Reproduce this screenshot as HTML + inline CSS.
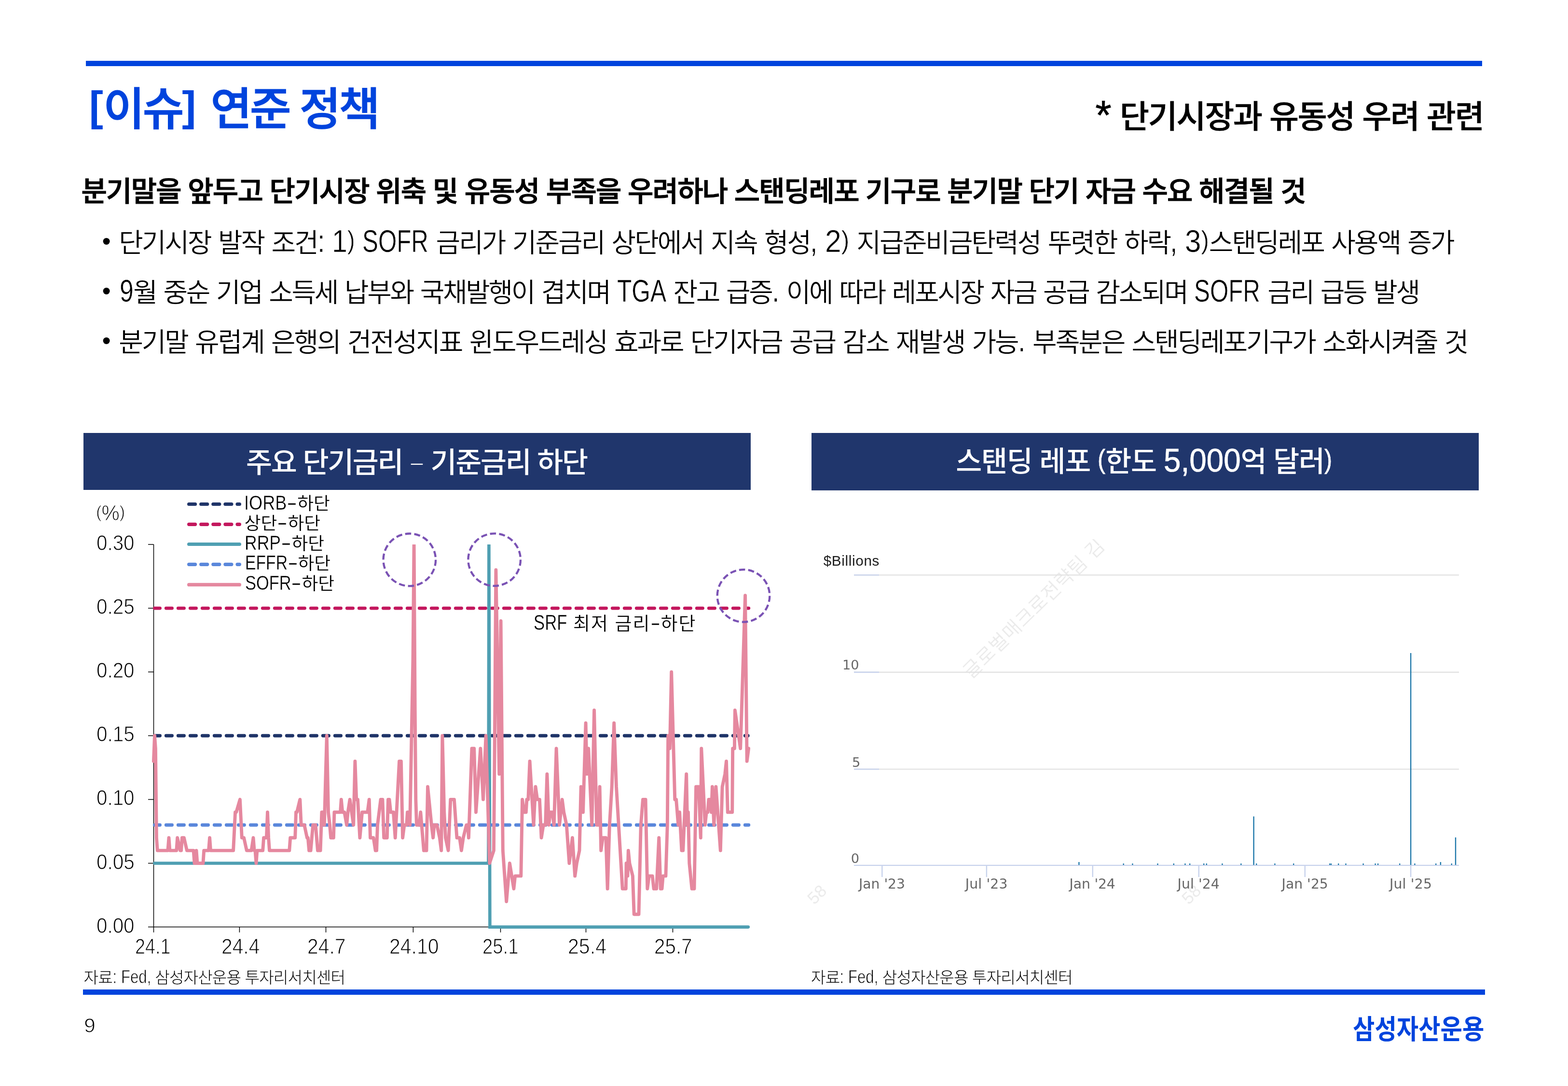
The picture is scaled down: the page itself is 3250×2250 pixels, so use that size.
<!DOCTYPE html>
<html lang="ko"><head><meta charset="utf-8"><title>[이슈] 연준 정책</title>
<style>
html,body{margin:0;padding:0;background:#fff}
body{width:3250px;height:2250px;position:relative;overflow:hidden;font-family:"Liberation Sans","Noto Sans CJK KR",sans-serif}
.t{position:absolute;white-space:pre;line-height:1;color:#000;transform-origin:0 50%}
.br{position:relative;top:-0.11em;font-size:.94em;font-weight:700;-webkit-text-stroke:0}
.br:first-child{margin-right:.05em}
.g1{letter-spacing:.09em}
.g2{letter-spacing:-.05em}
.ast{position:relative;top:.035em;font-size:1.3em;line-height:0;margin-right:.04em}
.dash{display:inline-block;transform:scale(.75,.6)}
.p{font-size:0.82em;position:relative;top:-.125em}
.l{display:inline-block;line-height:0;font-size:1.17em;letter-spacing:0;font-kerning:none;transform-origin:0 50%;transform:scaleX(0.86);-webkit-text-stroke:.01em #fff}
.lt .l{-webkit-text-stroke:.024em #fff}
.dv{font-family:"DejaVu Sans","Liberation Sans",sans-serif}
.bar{position:absolute;background:#0044DD}
.hd{position:absolute;background:#20366C}
.wm{position:absolute;white-space:pre;line-height:1;color:#EBEBEB;transform-origin:0 50%;transform:rotate(-44.5deg)}
svg{position:absolute;left:0;top:0}
</style></head><body>
<div class="bar" style="left:178px;top:126px;width:2894px;height:11px"></div>
<div class="bar" style="left:172px;top:2050px;width:2906px;height:11px"></div>
<div class="hd" style="left:173px;top:897px;width:1383px;height:118px"></div>
<div class="hd" style="left:1682px;top:897px;width:1383px;height:119px"></div>
<div style="position:absolute;left:1690px;top:1117px;width:1400px;height:800px;overflow:hidden"><div class="wm" style="left:313px;top:261px;font-size:40px;letter-spacing:1.2px;font-weight:350">글로벌매크로전략팀 김</div></div>
<div class="wm" style="left:1679px;top:1849px;font-size:35px;font-weight:400">58</div>
<div class="wm" style="left:2455px;top:1849px;font-size:35px;font-weight:400">58</div>
<svg width="3250" height="2250" viewBox="0 0 3250 2250">
<g stroke="#000" stroke-width="1.5" fill="none">
<path d="M318.5,1128.0 V1931.8"/>
<path d="M307.0,1920.6 H1553"/>
<path d="M307.0,1788.5 H318.5"/>
<path d="M307.0,1656.4 H318.5"/>
<path d="M307.0,1524.3 H318.5"/>
<path d="M307.0,1392.2 H318.5"/>
<path d="M307.0,1260.1 H318.5"/>
<path d="M307.0,1128.0 H318.5"/>
<path d="M496.4,1920.6 V1931.8"/>
<path d="M675.5,1920.6 V1931.8"/>
<path d="M856.4,1920.6 V1931.8"/>
<path d="M1037.5,1920.6 V1931.8"/>
<path d="M1214.5,1920.6 V1931.8"/>
<path d="M1394.5,1920.6 V1931.8"/>
</g>
<defs><clipPath id="pc"><rect x="300" y="1128.1" width="1300" height="900"/></clipPath></defs>
<g clip-path="url(#pc)" fill="none">
<path d="M320.5,1524.3 H1550.2" stroke="#1F3468" stroke-dasharray="12.2 12.8" stroke-dashoffset="1.2" stroke-linecap="round" stroke-width="6.9"/>
<path d="M320.5,1260.1 H1551.8" stroke="#C3175D" stroke-dasharray="12.2 12.8" stroke-dashoffset="1.2" stroke-linecap="round" stroke-width="6.9"/>
<path d="M320.4,1788.5 H1012.4 L1013.4,1123.0 L1015.4,1920.6 H1550.8" stroke="#4F9FB2" stroke-width="6.6" stroke-linecap="round" stroke-linejoin="miter" stroke-miterlimit="2"/>
<path d="M320.5,1709.24 H1551.8" stroke="#5A87DB" stroke-dasharray="12.2 12.8" stroke-dashoffset="1.2" stroke-linecap="round" stroke-width="6.9"/>
<path d="M318.4,1577.1 L320.5,1524.3 L322.4,1550.7 L324.4,1735.7 L326.3,1762.1 L347.9,1762.1 L350.0,1735.7 L351.9,1762.1 L365.8,1762.1 L367.7,1735.7 L373.5,1762.1 L375.6,1762.1 L377.4,1735.7 L381.4,1735.7 L387.4,1762.1 L401.1,1762.1 L403.0,1788.5 L405.1,1788.5 L407.0,1762.1 L409.0,1788.5 L420.9,1788.5 L422.7,1762.1 L432.5,1762.1 L434.6,1735.7 L436.5,1762.1 L483.6,1762.1 L487.6,1682.8 L489.7,1682.8 L497.4,1656.4 L501.3,1735.7 L505.5,1735.7 L511.3,1762.1 L521.1,1762.1 L525.0,1735.7 L527.1,1762.1 L528.9,1762.1 L531.0,1788.5 L532.9,1762.1 L544.7,1762.1 L546.6,1735.7 L552.4,1735.7 L554.5,1682.8 L556.6,1735.7 L558.5,1762.1 L599.8,1762.1 L601.7,1735.7 L611.7,1735.7 L613.5,1682.8 L615.4,1682.8 L621.8,1656.4 L624.2,1709.2 L630.8,1709.2 L636.5,1735.7 L638.3,1735.7 L640.6,1762.1 L644.0,1762.1 L648.7,1709.2 L654.1,1709.2 L658.5,1762.1 L664.1,1762.1 L666.9,1682.8 L669.7,1682.8 L672.2,1709.2 L677.3,1524.3 L680.5,1682.8 L683.5,1709.2 L685.7,1735.7 L691.4,1735.7 L692.9,1682.8 L705.5,1682.8 L707.3,1656.4 L709.8,1682.8 L713.9,1682.8 L718.6,1709.2 L721.1,1682.8 L725.2,1656.4 L728.9,1682.8 L732.7,1709.2 L735.9,1577.1 L738.7,1656.4 L741.5,1656.4 L745.9,1735.7 L750.6,1682.8 L761.8,1682.8 L765.2,1656.4 L767.5,1735.7 L774.1,1735.7 L778.2,1762.1 L780.6,1762.1 L782.5,1709.2 L789.1,1656.4 L792.9,1656.4 L795.7,1735.7 L802.3,1735.7 L804.5,1656.4 L807.0,1656.4 L809.8,1682.8 L815.4,1682.8 L819.2,1735.7 L827.6,1577.1 L831.4,1577.1 L834.6,1735.7 L838.0,1709.2 L842.7,1709.2 L844.5,1682.8 L847.4,1682.8 L849.6,1709.2 L856.0,1365.8 L858.1,1128.0 L860.2,1471.5 L861.8,1656.4 L863.5,1709.2 L869.0,1709.2 L871.8,1682.8 L878.4,1762.1 L884.0,1762.1 L886.5,1630.0 L894.4,1709.2 L897.7,1735.7 L900.0,1709.2 L905.6,1709.2 L911.3,1735.7 L914.7,1762.1 L916.9,1524.3 L920.7,1682.8 L923.5,1735.7 L929.1,1762.1 L933.8,1656.4 L941.4,1656.4 L947.0,1735.7 L952.6,1735.7 L956.4,1762.1 L960.2,1735.7 L966.7,1709.2 L969.5,1709.2 L971.4,1735.7 L978.0,1550.7 L982.7,1550.7 L986.5,1682.8 L995.9,1550.7 L1001.5,1656.4 L1007.1,1524.3 L1014.7,1788.5 L1023.4,1762.1 L1025.4,1524.3 L1027.9,1180.8 L1034.7,1603.6 L1038.1,1286.5 L1042.3,1762.1 L1049.7,1867.8 L1056.4,1788.5 L1064.9,1841.3 L1067.7,1814.9 L1079.8,1814.9 L1082.6,1656.4 L1086.3,1682.8 L1090.3,1682.8 L1091.9,1656.4 L1094.8,1656.4 L1098.1,1577.1 L1106.0,1709.2 L1110.0,1630.0 L1113.7,1656.4 L1118.4,1656.4 L1122.1,1735.7 L1126.3,1709.2 L1130.6,1709.2 L1133.9,1603.6 L1137.6,1709.2 L1140.4,1682.8 L1144.7,1682.8 L1148.3,1709.2 L1153.1,1550.7 L1159.6,1709.2 L1165.2,1656.4 L1168.6,1682.8 L1174.3,1709.2 L1179.9,1788.5 L1186.4,1735.7 L1191.7,1814.9 L1195.4,1788.5 L1201.0,1762.1 L1204.2,1630.0 L1208.5,1682.8 L1214.1,1497.9 L1216.4,1603.6 L1219.7,1550.7 L1226.8,1709.2 L1231.6,1471.5 L1236.7,1709.2 L1240.9,1709.2 L1243.1,1630.0 L1245.7,1762.1 L1249.3,1735.7 L1255.8,1735.7 L1259.2,1841.3 L1263.4,1709.2 L1268.2,1630.0 L1272.7,1497.9 L1277.5,1630.0 L1290.2,1841.3 L1297.3,1841.3 L1298.1,1788.5 L1300.9,1814.9 L1302.3,1762.1 L1304.9,1788.5 L1311.4,1814.9 L1314.2,1894.2 L1324.0,1894.2 L1328.3,1709.2 L1332.5,1656.4 L1338.1,1656.4 L1341.8,1841.3 L1345.2,1814.9 L1352.2,1814.9 L1355.1,1841.3 L1360.7,1841.3 L1365.8,1735.7 L1369.2,1841.3 L1372.0,1841.3 L1374.2,1814.9 L1379.9,1814.9 L1383.3,1709.2 L1384.7,1524.3 L1388.3,1550.7 L1391.7,1392.2 L1398.8,1656.4 L1401.6,1656.4 L1405.8,1709.2 L1408.6,1682.8 L1412.9,1762.1 L1415.7,1762.1 L1422.7,1603.6 L1424.7,1709.2 L1426.4,1682.8 L1428.8,1788.5 L1434.1,1841.3 L1439.0,1841.3 L1442.6,1630.0 L1448.2,1630.0 L1452.3,1735.7 L1453.8,1550.7 L1461.4,1709.2 L1464.2,1682.8 L1467.0,1682.8 L1468.9,1656.4 L1471.7,1656.4 L1474.5,1682.8 L1476.4,1630.0 L1479.8,1709.2 L1483.9,1630.0 L1493.3,1762.1 L1497.1,1630.0 L1502.7,1603.6 L1505.5,1577.1 L1508.3,1682.8 L1517.7,1682.8 L1518.7,1550.7 L1522.4,1550.7 L1523.4,1471.5 L1534.7,1550.7 L1544.6,1233.7 L1548.2,1577.1 L1551.6,1550.7" stroke="#E5889F" stroke-width="6.9" stroke-linejoin="round" stroke-linecap="round"/>
</g>
<g fill="none">
<path d="M391.6,1044.5 H496.4" stroke="#1F3468" stroke-dasharray="13 12.1" stroke-linecap="round" stroke-width="7.2"/>
<path d="M391.6,1086.3 H496.4" stroke="#C3175D" stroke-dasharray="13 12.1" stroke-linecap="round" stroke-width="7.2"/>
<path d="M391.6,1127.5 H496.4" stroke="#4F9FB2" stroke-width="7.2" stroke-linecap="round"/>
<path d="M391.6,1169.3 H496.4" stroke="#5A87DB" stroke-dasharray="13 12.1" stroke-linecap="round" stroke-width="7.2"/>
<path d="M391.6,1211.4 H496.4" stroke="#E5889F" stroke-width="7.2" stroke-linecap="round"/>
<circle cx="848.8" cy="1159.8" r="54.3" stroke="#7A52B4" stroke-width="4.3" stroke-dasharray="12.6 6.35"/>
<circle cx="1024.7" cy="1159.6" r="54.3" stroke="#7A52B4" stroke-width="4.3" stroke-dasharray="12.6 6.35"/>
<circle cx="1541" cy="1234.4" r="54.3" stroke="#7A52B4" stroke-width="4.3" stroke-dasharray="12.6 6.35"/>
</g>
<g fill="none" stroke="#E2E2E2" stroke-width="2.4">
<path d="M1770,1191.4 H3024"/>
<path d="M1770,1392.7 H3024"/>
<path d="M1770,1593.6 H3024"/>
</g>
<g fill="none" stroke="#C7D2EC" stroke-width="2.4">
<path d="M1770,1191.4 H1822"/>
<path d="M1770,1392.7 H1822"/>
<path d="M1770,1593.6 H1822"/>
<path d="M1770,1792.9 H3024"/>
<path d="M1828.3,1792.9 V1817"/>
<path d="M2044.9,1792.9 V1817"/>
<path d="M2264.8,1792.9 V1817"/>
<path d="M2484.8,1792.9 V1817"/>
<path d="M2704.8,1792.9 V1817"/>
<path d="M2924.1,1792.9 V1817"/>
</g>
<g fill="none" stroke="#1E78AA" stroke-width="2.4">
<path d="M2924.1,1792 V1353"/>
<path d="M2598.6,1792 V1691.5"/>
<path d="M3017,1792 V1735"/>
<path d="M2236.4,1792 V1786"/>
<path d="M2328.7,1792 V1789"/>
<path d="M2347.4,1792 V1789"/>
<path d="M2399.5,1792 V1789"/>
<path d="M2432.8,1792 V1789"/>
<path d="M2456.4,1792 V1789"/>
<path d="M2466.1,1792 V1789"/>
<path d="M2495.2,1792 V1789"/>
<path d="M2500.8,1792 V1789"/>
<path d="M2533.4,1792 V1789"/>
<path d="M2572.3,1792 V1789"/>
<path d="M2604.2,1792 V1789"/>
<path d="M2642.4,1792 V1789"/>
<path d="M2681.2,1792 V1789"/>
<path d="M2756.2,1792 V1789"/>
<path d="M2759.0,1792 V1789"/>
<path d="M2774.2,1792 V1789"/>
<path d="M2789.5,1792 V1789"/>
<path d="M2825.6,1792 V1789"/>
<path d="M2850.6,1792 V1789"/>
<path d="M2856.1,1792 V1789"/>
<path d="M2901.2,1792 V1789"/>
<path d="M2932.4,1792 V1789"/>
<path d="M2976.2,1792 V1789"/>
<path d="M2985.9,1792 V1786"/>
<path d="M3008.8,1792 V1789"/>
</g>
</svg>
<div class="t" style="left:184.7px;top:181.4px;font-size:93.0px;font-weight:500;letter-spacing:-4.03px;color:#0044DD;-webkit-text-stroke:1.5px #0044DD;"><span class="br">[</span>이슈<span class="br">]</span><span class="g1"> </span>연준<span class="g2"> </span>정책</div>
<div class="t" style="left:2270.2px;top:209.3px;font-size:66.25px;font-weight:500;letter-spacing:-2.22px;-webkit-text-stroke:0.7px #000;"><span class="ast">*</span> 단기시장과 유동성 우려 관련</div>
<div class="t" style="left:168.5px;top:367.8px;font-size:58.0px;font-weight:500;letter-spacing:-1.76px;-webkit-text-stroke:1.2px #000;">분기말을 앞두고 단기시장 위축 및 유동성 부족을 우려하나 스탠딩레포 기구로 분기말 단기 자금 수요 해결될 것</div>
<div class="t" style="left:246.2px;top:476.4px;font-size:55.0px;font-weight:350;letter-spacing:-2.98px;word-spacing:3px;">단기시장 발작 조건<span class="l" style="margin-right:-0.0389em">:</span> <span class="l" style="margin-right:-0.0903em;transform:scaleX(0.8911)">1<span class="p">)</span></span> <span class="l" style="margin-right:-0.6495em;transform:scaleX(0.7662)">SOFR</span> 금리가 기준금리 상단에서 지속 형성<span class="l" style="margin-right:-0.0389em">,</span> <span class="l" style="margin-right:-0.0473em;transform:scaleX(0.9429)">2<span class="p">)</span></span> 지급준비금탄력성 뚜렷한 하락<span class="l" style="margin-right:-0.0389em">,</span> <span class="l" style="margin-right:-0.0533em;transform:scaleX(0.9357)">3<span class="p">)</span></span>스탠딩레포 사용액 증가</div>
<div class="t" style="left:247.6px;top:579.1px;font-size:55.0px;font-weight:350;letter-spacing:-3.35px;word-spacing:3px;"><span class="l" style="margin-right:-0.11em;transform:scaleX(0.8022)">9</span>월 중순 기업 소득세 납부와 국채발행이 겹치며 <span class="l" style="margin-right:-0.4699em;transform:scaleX(0.7714)">TGA</span> 잔고 급증<span class="l" style="margin-right:-0.0389em">.</span> 이에 따라 레포시장 자금 공급 감소되며 <span class="l" style="margin-right:-0.6495em;transform:scaleX(0.7662)">SOFR</span> 금리 급등 발생</div>
<div class="t" style="left:246.3px;top:682.0px;font-size:55.0px;font-weight:350;letter-spacing:-3.07px;word-spacing:3px;">분기말 유럽계 은행의 건전성지표 윈도우드레싱 효과로 단기자금 공급 감소 재발생 가능<span class="l" style="margin-right:-0.0389em">.</span> 부족분은 스탠딩레포기구가 소화시켜줄 것</div>
<div class="t" style="left:211.5px;top:473.0px;font-size:52px;width:18px;text-align:center">•</div>
<div class="t" style="left:211.5px;top:575.8px;font-size:52px;width:18px;text-align:center">•</div>
<div class="t" style="left:211.5px;top:678.6px;font-size:52px;width:18px;text-align:center">•</div>
<div class="t" style="left:510.1px;top:929.8px;font-size:58.75px;font-weight:500;letter-spacing:-2.35px;color:#fff;">주요 단기금리 <span class="dash">–</span> 기준금리 하단</div>
<div class="t" style="left:1981.2px;top:928.1px;font-size:58.75px;font-weight:500;letter-spacing:-1.28px;color:#fff;">스탠딩 레포 <span class="l" style="margin-right:-0.0382em"><span class="p">(</span></span>한도 <span class="l" style="margin-right:-0.1794em;transform:scaleX(0.9283)">5,000</span>억 달러<span class="l" style="margin-right:-0.0382em"><span class="p">)</span></span></div>
<div class="t" style="left:199.5px;top:1102.0px;font-size:45.0px;transform:scaleX(0.8964);-webkit-text-stroke:1.1px #fff;">0.30</div>
<div class="t" style="left:199.5px;top:1234.1px;font-size:45.0px;transform:scaleX(0.9);-webkit-text-stroke:1.1px #fff;">0.25</div>
<div class="t" style="left:199.5px;top:1366.2px;font-size:45.0px;transform:scaleX(0.8964);-webkit-text-stroke:1.1px #fff;">0.20</div>
<div class="t" style="left:199.5px;top:1498.3px;font-size:45.0px;transform:scaleX(0.9);-webkit-text-stroke:1.1px #fff;">0.15</div>
<div class="t" style="left:199.5px;top:1630.4px;font-size:45.0px;transform:scaleX(0.8964);-webkit-text-stroke:1.1px #fff;">0.10</div>
<div class="t" style="left:199.5px;top:1762.5px;font-size:45.0px;transform:scaleX(0.9);-webkit-text-stroke:1.1px #fff;">0.05</div>
<div class="t" style="left:199.5px;top:1894.6px;font-size:45.0px;transform:scaleX(0.8964);-webkit-text-stroke:1.1px #fff;">0.00</div>
<div class="t" style="left:280.1px;top:1938.6px;font-size:43.75px;transform:scaleX(0.8623);-webkit-text-stroke:1.1px #fff;">24.1</div>
<div class="t" style="left:459.1px;top:1938.6px;font-size:43.75px;transform:scaleX(0.9322);-webkit-text-stroke:1.1px #fff;">24.4</div>
<div class="t" style="left:637.3px;top:1938.6px;font-size:43.75px;transform:scaleX(0.9326);-webkit-text-stroke:1.1px #fff;">24.7</div>
<div class="t" style="left:807.3px;top:1938.6px;font-size:43.75px;transform:scaleX(0.9354);-webkit-text-stroke:1.1px #fff;">24.10</div>
<div class="t" style="left:999.7px;top:1938.6px;font-size:43.75px;transform:scaleX(0.8749);-webkit-text-stroke:1.1px #fff;">25.1</div>
<div class="t" style="left:1176.9px;top:1938.6px;font-size:43.75px;transform:scaleX(0.9397);-webkit-text-stroke:1.1px #fff;">25.4</div>
<div class="t" style="left:1355.7px;top:1938.6px;font-size:43.75px;transform:scaleX(0.9226);-webkit-text-stroke:1.1px #fff;">25.7</div>
<div class="t" style="left:198.6px;top:1040.7px;font-size:43.75px;transform:scaleX(0.9593);-webkit-text-stroke:1.1px #fff;"><span class="p">(</span>%<span class="p">)</span></div>
<div class="t" style="left:505.8px;top:1025.5px;font-size:36.75px;font-weight:350;"><span class="l" style="margin-right:-0.3907em;transform:scaleX(0.8402)">IORB</span><span class="l" style="margin-right:0.1794em;transform:scaleX(1.5387)">-</span>하단</div>
<div class="t" style="left:506.8px;top:1067.3px;font-size:36.75px;font-weight:350;">상단<span class="l" style="margin-right:0.1794em;transform:scaleX(1.5387)">-</span>하단</div>
<div class="t" style="left:507.3px;top:1108.5px;font-size:36.75px;font-weight:350;"><span class="l" style="margin-right:-0.3657em;transform:scaleX(0.8268)">RRP</span><span class="l" style="margin-right:0.1794em;transform:scaleX(1.5387)">-</span>하단</div>
<div class="t" style="left:507.5px;top:1150.3px;font-size:36.75px;font-weight:350;"><span class="l" style="margin-right:-0.5632em;transform:scaleX(0.7843)">EFFR</span><span class="l" style="margin-right:0.1794em;transform:scaleX(1.5387)">-</span>하단</div>
<div class="t" style="left:507.8px;top:1192.4px;font-size:36.75px;font-weight:350;"><span class="l" style="margin-right:-0.5547em;transform:scaleX(0.8003)">SOFR</span><span class="l" style="margin-right:0.1794em;transform:scaleX(1.5387)">-</span>하단</div>
<div class="t" style="left:1106.0px;top:1272.5px;font-size:38.0px;font-weight:350;letter-spacing:2.01px;"><span class="l" style="margin-right:-0.44em;transform:scaleX(0.78)">SRF</span> 최저 금리<span class="l" style="margin-right:0.1415em;transform:scaleX(1.425)">-</span>하단</div>
<div class="t lt" style="left:173.6px;top:2008.8px;font-size:33.25px;font-weight:300;letter-spacing:-0.93px;">자료<span class="l" style="margin-right:-0.0389em">:</span> <span class="l" style="margin-right:-0.3974em;transform:scaleX(0.8014)">Fed,</span> 삼성자산운용 투자리서치센터</div>
<div class="t lt" style="left:1681.1px;top:2008.8px;font-size:33.25px;font-weight:300;letter-spacing:-0.93px;">자료<span class="l" style="margin-right:-0.0389em">:</span> <span class="l" style="margin-right:-0.3974em;transform:scaleX(0.8014)">Fed,</span> 삼성자산운용 투자리서치센터</div>
<div class="t" style="left:173.8px;top:2104.1px;font-size:42.0px;transform:scaleX(1.0222);-webkit-text-stroke:1.1px #fff;">9</div>
<div class="t" style="left:2804.3px;top:2104.5px;font-size:56.0px;font-weight:700;color:#0044DD;transform:scaleX(0.881);">삼성자산운용</div>
<div class="t" style="left:1706.7px;top:1147.4px;font-size:29.75px;letter-spacing:0.62px;color:#1c1c1c;">$Billions</div>
<div class="t dv" style="left:1746.0px;top:1364.0px;font-size:27.25px;color:#666;">10</div>
<div class="t dv" style="left:1766.0px;top:1566.0px;font-size:27.25px;color:#666;">5</div>
<div class="t dv" style="left:1763.7px;top:1764.8px;font-size:27.25px;color:#666;">0</div>
<div class="t dv" style="left:1780.1px;top:1818.0px;font-size:28.25px;letter-spacing:-0.06px;color:#666;">Jan '23</div>
<div class="t dv" style="left:2000.7px;top:1818.0px;font-size:28.25px;letter-spacing:0.17px;color:#666;">Jul '23</div>
<div class="t dv" style="left:2216.6px;top:1818.0px;font-size:28.25px;letter-spacing:-0.17px;color:#666;">Jan '24</div>
<div class="t dv" style="left:2440.6px;top:1818.0px;font-size:28.25px;letter-spacing:0.06px;color:#666;">Jul '24</div>
<div class="t dv" style="left:2656.6px;top:1818.0px;font-size:28.25px;color:#666;">Jan '25</div>
<div class="t dv" style="left:2879.9px;top:1818.0px;font-size:28.25px;letter-spacing:0.22px;color:#666;">Jul '25</div>
</body></html>
